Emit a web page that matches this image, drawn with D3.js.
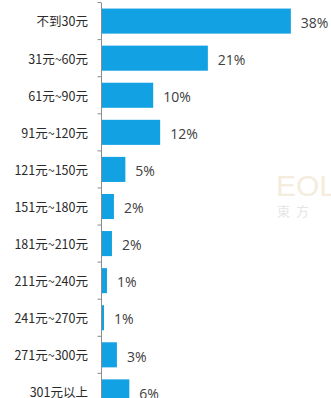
<!DOCTYPE html>
<html><head><meta charset="utf-8">
<script src="https://cdn.jsdelivr.net/npm/d3@7"></script>
<style>
html,body{margin:0;padding:0;background:#fff;overflow:hidden;}
</style></head>
<body>
<svg id="c" width="331" height="398"></svg>
<script>
const categories = ["不到30元","31元~60元","61元~90元","91元~120元","121元~150元","151元~180元","181元~210元","211元~240元","241元~270元","271元~300元","301元以上"];
const values = [38, 21.3, 10.3, 11.7, 4.7, 2.4, 2.0, 1.0, 0.4, 3.0, 5.5];
const valueLabels = ["38%","21%","10%","12%","5%","2%","2%","1%","1%","3%","6%"];

const svg = d3.select("#c");
const axisX = 101.5;

// watermark
svg.append("text").attr("x",276).attr("y",196).attr("font-family","Liberation Sans, sans-serif")
  .attr("font-size",30).attr("fill","#f4ecdc").text("EOL");
svg.append("text").attr("x",277).attr("y",216).attr("font-family","Noto Sans CJK TC, sans-serif")
  .attr("font-size",13).attr("letter-spacing",6).attr("fill","#e6e6e8").text("東方");

const y = d3.scaleBand().domain(categories).range([3, 410]).paddingInner(0.324).paddingOuter(0.15);
const x = d3.scaleLinear().domain([0, 40]).range([axisX + 0.5, axisX + 0.5 + 40 * 4.97]);

svg.append("g").selectAll("rect").data(categories).join("rect")
  .attr("x", x(0))
  .attr("y", d => y(d))
  .attr("width", (d, i) => x(values[i]) - x(0))
  .attr("height", y.bandwidth())
  .attr("fill", "#12a1e2");

// axis line and ticks between categories
const step = y.step();
const gap = (step - y.bandwidth()) / 2;
const g = svg.append("g");
g.append("line").attr("x1", axisX).attr("x2", axisX).attr("y1", 3).attr("y2", 410)
  .attr("stroke", "#8c8c8c").attr("stroke-width", 1);
const tickYs = categories.map(d => y(d) - gap).concat([y(categories[categories.length-1]) + y.bandwidth() + gap]);
g.selectAll("line.t").data(tickYs).join("line").attr("class","t")
  .attr("x1", axisX - 4).attr("x2", axisX).attr("y1", d => d).attr("y2", d => d)
  .attr("stroke", "#8c8c8c").attr("stroke-width", 1);

// category labels
svg.append("g").selectAll("text").data(categories).join("text")
  .attr("x", 88)
  .attr("y", d => y(d) + y.bandwidth() / 2 + 2)
  .attr("text-anchor", "end")
  .attr("dominant-baseline", "middle")
  .attr("font-family", "Noto Sans CJK SC, sans-serif")
  .attr("font-size", 12.5)
  .attr("fill", "#2a2a2a")
  .text(d => d);

// value labels
svg.append("g").selectAll("text").data(categories).join("text")
  .attr("x", (d, i) => x(values[i]) + 10)
  .attr("y", (d, i) => y(d) + y.bandwidth() / 2 + 3)
  .attr("dominant-baseline", "middle")
  .attr("font-family", "Open Sans, sans-serif")
  .attr("font-size", 14)
  .attr("fill", "#404040")
  .text((d, i) => valueLabels[i]);
</script>
</body></html>
